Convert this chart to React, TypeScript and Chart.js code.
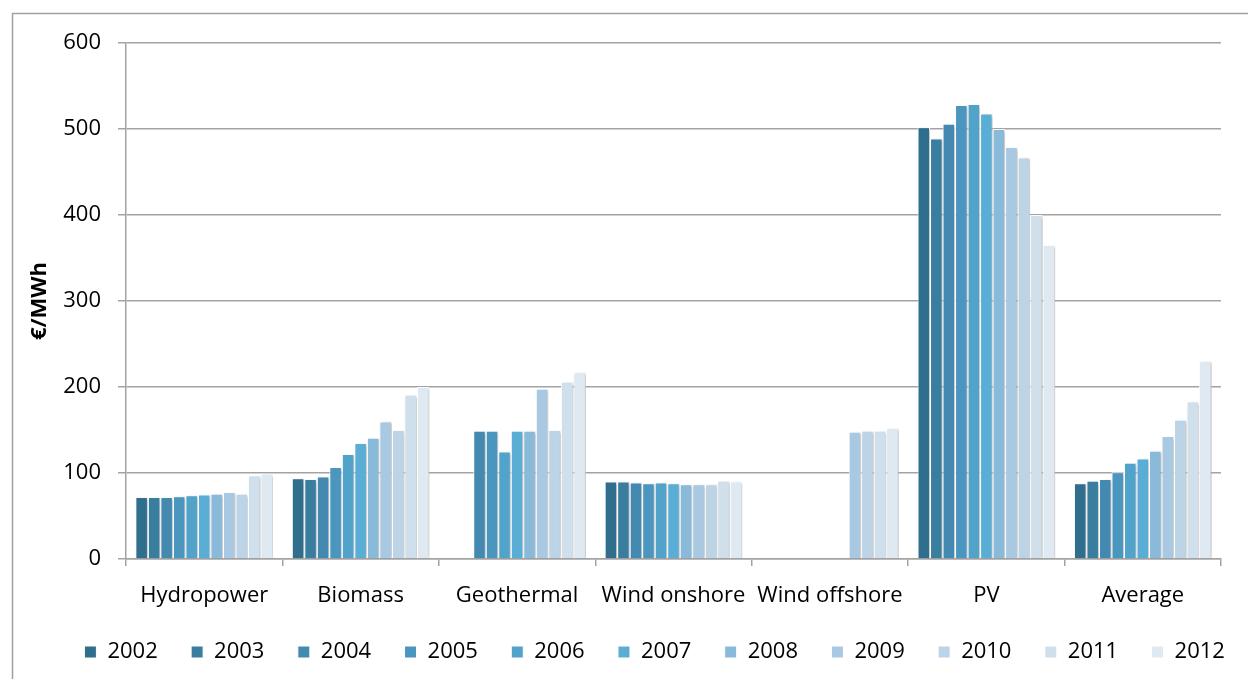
import { useEffect, useRef } from 'react';
import { Chart, registerables } from 'chart.js';

Chart.register(...registerables);

const categories = ['Hydropower', 'Biomass', 'Geothermal', 'Wind onshore', 'Wind offshore', 'PV', 'Average'];
const years = ['2002', '2003', '2004', '2005', '2006', '2007', '2008', '2009', '2010', '2011', '2012'];

const v2002 = [72, 94, null, 90, null, 502, 88];
const v2003 = [72, 93, null, 90, null, 489, 91];
const v2004 = [72, 96, 149, 89, null, 506, 93];
const v2005 = [73, 107, 149, 88, null, 528, 101];
const v2006 = [74, 122, 125, 89, null, 529, 112];
const v2007 = [75, 135, 149, 88, null, 518, 117];
const v2008 = [76, 141, 149, 87, null, 500, 126];
const v2009 = [78, 160, 198, 87, 148, 479, 143];
const v2010 = [76, 150, 150, 87, 149, 467, 162];
const v2011 = [97, 191, 206, 91, 149, 400, 183];
const v2012 = [99, 200, 217, 90, 152, 365, 230];

const yearColors = [
  '#2F6E8D', '#3A7E9F', '#4389B0', '#4A96BE', '#52A3CA', '#5AAED5',
  '#89BADA', '#A9C8E2', '#BDD4E7', '#CFE0EC', '#DFE9F2',
];

const yMin = 0;
const yMax = 600;
const yStep = 100;
const yTitle = '€/MWh';

const FONT = "'Open Sans', sans-serif";
const GRID = '#a3a3a3';

export default function App() {
  const ref = useRef<HTMLCanvasElement>(null);

  useEffect(() => {
    const canvas = ref.current;
    if (!canvas) return;
    const series = [v2002, v2003, v2004, v2005, v2006, v2007, v2008, v2009, v2010, v2011, v2012];

    const frame = {
      id: 'frame',
      beforeDraw(chart: any) {
        const ctx = chart.ctx;
        ctx.save();
        ctx.fillStyle = '#ffffff';
        ctx.fillRect(0, 0, chart.width, chart.height);
        ctx.strokeStyle = '#a0a0a0';
        ctx.lineWidth = 1.5;
        ctx.strokeRect(12.5, 13.5, chart.width + 40, chart.height + 40);
        ctx.restore();
      },
    };
    const shadow = {
      id: 'barShadow',
      beforeDatasetsDraw(chart: any) {
        const ctx = chart.ctx;
        ctx.save();
        ctx.shadowColor = 'rgba(0,0,0,0.25)';
        ctx.shadowBlur = 3;
        ctx.shadowOffsetX = 2;
        ctx.shadowOffsetY = 1;
      },
      afterDatasetsDraw(chart: any) {
        chart.ctx.restore();
      },
    };
    const legendShift = {
      id: 'legendShift',
      afterLayout(chart: any) {
        const lg = chart.legend;
        if (lg) {
          lg.left += 51;
          lg.right += 51;
        }
      },
    };

    const chart = new Chart(canvas, {
      type: 'bar',
      data: {
        labels: categories,
        datasets: years.map((y, i) => ({
          label: y,
          data: series[i],
          backgroundColor: yearColors[i],
          borderColor: '#ffffff',
          borderWidth: 1,
          borderSkipped: 'bottom',
          categoryPercentage: 0.88,
          barPercentage: 1.0,
        })),
      },
      options: {
        responsive: false,
        animation: false,
        devicePixelRatio: 1,
        layout: { padding: { left: 0, top: 43, right: 27, bottom: 6 } },
        plugins: {
          legend: {
            position: 'bottom',
            align: 'start',
            labels: {
              boxWidth: 12,
              boxHeight: 12,
              padding: 33.4,
              color: '#000',
              font: { family: FONT, size: 22 },
            },
          },
          tooltip: { enabled: false },
          title: { display: false },
        },
        scales: {
          x: {
            afterFit(scale: any) {
              scale.height = 48.6;
            },
            grid: {
              display: true,
              drawOnChartArea: false,
              drawTicks: true,
              tickLength: 7,
              color: GRID,
              lineWidth: 1.5,
            },
            border: { display: true, color: GRID, width: 1.5 },
            ticks: {
              color: '#000',
              font: { family: FONT, size: 22 },
              padding: 17,
              autoSkip: false,
              maxRotation: 0,
            },
          },
          y: {
            min: yMin,
            max: yMax,
            afterFit(scale: any) {
              scale.width = 126;
            },
            grid: {
              color: GRID,
              lineWidth: 1.5,
              tickLength: 8,
              drawTicks: true,
            },
            border: { display: true, color: GRID, width: 1.5 },
            ticks: {
              stepSize: yStep,
              color: '#000',
              font: { family: FONT, size: 22 },
              padding: 17,
            },
            title: {
              display: true,
              text: yTitle,
              color: '#000',
              font: { family: FONT, size: 22, weight: 'bold' },
              padding: { top: 27, bottom: 0 },
            },
          },
        },
      },
      plugins: [frame, shadow, legendShift],
    } as any);

    return () => chart.destroy();
  }, []);

  return (
    <div style={{ position: 'absolute', left: 0, top: 0, width: 1248, height: 679 }}>
      <canvas ref={ref} width={1248} height={679} style={{ display: 'block' }} />
    </div>
  );
}
